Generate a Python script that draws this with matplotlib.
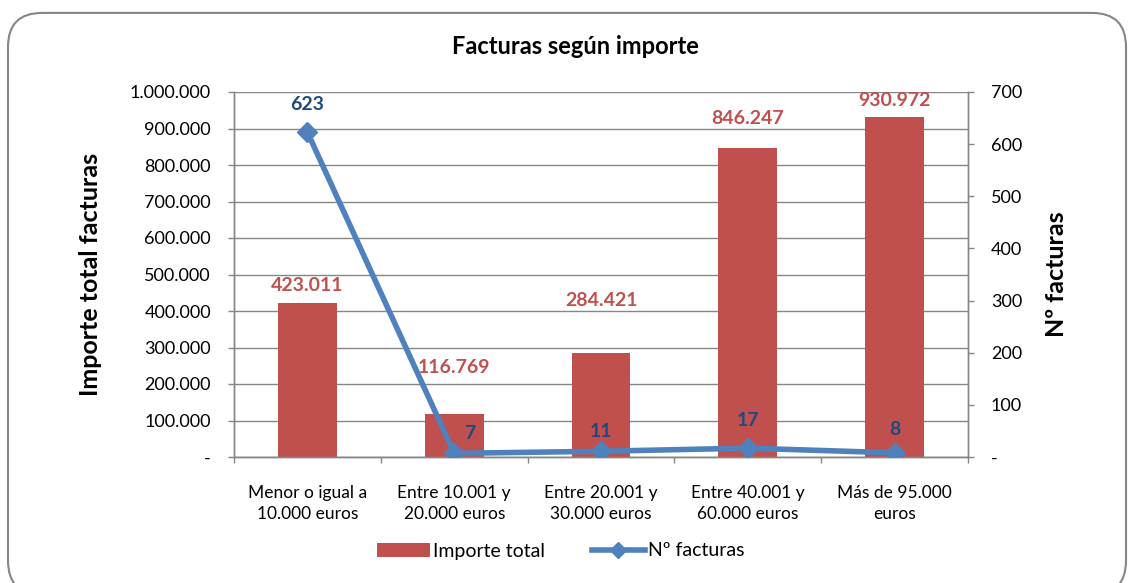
import matplotlib.pyplot as plt
from matplotlib.patches import FancyBboxPatch
from matplotlib.lines import Line2D
from matplotlib.patches import Patch
from matplotlib.ticker import FuncFormatter

plt.rcParams['font.family'] = ['Lato', 'DejaVu Sans']

# datos
categorias = ["Menor o igual a\n10.000 euros", "Entre 10.001 y\n20.000 euros",
              "Entre 20.001 y\n30.000 euros", "Entre 40.001 y\n60.000 euros",
              "Más de 95.000\neuros"]
importe_total = [423011, 116769, 284421, 846247, 930972]
num_facturas = [623, 7, 11, 17, 8]

color_barra = '#C0504D'
color_linea = '#4F81BD'
color_etiq_linea = '#1F497D'
gris = '#868686'


def miles(v, pos=None):
    if v == 0:
        return '-'
    return f"{int(v):,}".replace(',', '.')


fig = plt.figure(figsize=(11.33, 5.83), dpi=100)
# marco redondeado
marco = FancyBboxPatch((8 / 1133, -0.02), 1118 / 1133, 0.995 - (-0.02) - 10 / 583,
                       boxstyle="round,pad=0,rounding_size=0.03",
                       transform=fig.transFigure, facecolor='white',
                       edgecolor=gris, linewidth=1.5, mutation_aspect=1133 / 583,
                       zorder=-10)
fig.patches.append(marco)

ax = fig.add_axes([234 / 1133, 1 - 457 / 583, (968 - 234) / 1133, (457 - 92) / 583])
ax2 = ax.twinx()
ax.patch.set_alpha(0)
ax2.patch.set_alpha(0)

x = list(range(len(categorias)))
ax.bar(x, importe_total, width=0.4, color=color_barra, zorder=2)
ax.set_xlim(-0.5, len(categorias) - 0.5)
ax.set_ylim(0, 1000000)
ax.set_yticks(range(0, 1000001, 100000))
ax.yaxis.set_major_formatter(FuncFormatter(miles))
ax.grid(axis='y', color=gris, linewidth=1, zorder=0)
ax.set_axisbelow(True)

ax.set_xticks(x)
ax.set_xticklabels(categorias, fontsize=12.5, linespacing=1.4)
ax.set_xticks([i - 0.5 for i in range(len(categorias) + 1)], minor=True)
ax.tick_params(axis='x', which='major', length=0, pad=20)
ax.tick_params(axis='x', which='minor', length=4.5, color=gris, width=1)
ax.tick_params(axis='y', length=4.5, color=gris, width=1, labelsize=13, pad=12)

# etiquetas de las barras (desplazamiento vertical en puntos)
desp_barras = [12, 34, 38, 21, 12]
for i, v in enumerate(importe_total):
    ax.annotate(miles(v), (i, v), xytext=(0, desp_barras[i]), textcoords='offset points',
                ha='center', va='center', fontsize=14, fontweight='bold',
                color=color_barra)

ax2.plot(x, num_facturas, color=color_linea, linewidth=4, marker='D',
         markersize=10, zorder=3)
ax2.set_ylim(0, 700)
ax2.set_yticks(range(0, 701, 100))
ax2.yaxis.set_major_formatter(FuncFormatter(lambda v, p: '-' if v == 0 else str(int(v))))
ax2.tick_params(axis='y', length=4.5, color=gris, width=1, labelsize=13, pad=12)

desp_lineas = [(0, 20), (11, 14), (0, 14), (0, 20), (0, 17)]
for i, v in enumerate(num_facturas):
    ax2.annotate(str(v), (i, v), xytext=desp_lineas[i], textcoords='offset points',
                 ha='center', va='center', fontsize=14, fontweight='bold',
                 color=color_etiq_linea)

for a in (ax, ax2):
    for s in a.spines.values():
        s.set_visible(False)
    for s in ('left', 'right', 'bottom'):
        a.spines[s].set_visible(True)
        a.spines[s].set_color(gris)
        a.spines[s].set_linewidth(1)

fig.text(91 / 1133, 1 - 274 / 583, "Importe total facturas", rotation=90,
         ha='center', va='center', fontsize=18, fontweight='bold')
fig.text(1057 / 1133, 1 - 274 / 583, "Nº facturas", rotation=90,
         ha='center', va='center', fontsize=18, fontweight='bold')

fig.text(575 / 1133, 1 - 47 / 583, "Facturas según importe",
         ha='center', va='center', fontsize=17, fontweight='bold')

leyenda = [Patch(facecolor=color_barra, label='Importe total'),
           Line2D([0], [0], color=color_linea, linewidth=4, marker='D',
                  markersize=8, label='Nº facturas')]
fig.legend(handles=leyenda, loc='center', bbox_to_anchor=(561 / 1133, 1 - 551 / 583),
           ncol=2, frameon=False, fontsize=14, handlelength=2.7, columnspacing=2.4,
           handletextpad=0.2)

fig.savefig('out.png', dpi=100)
